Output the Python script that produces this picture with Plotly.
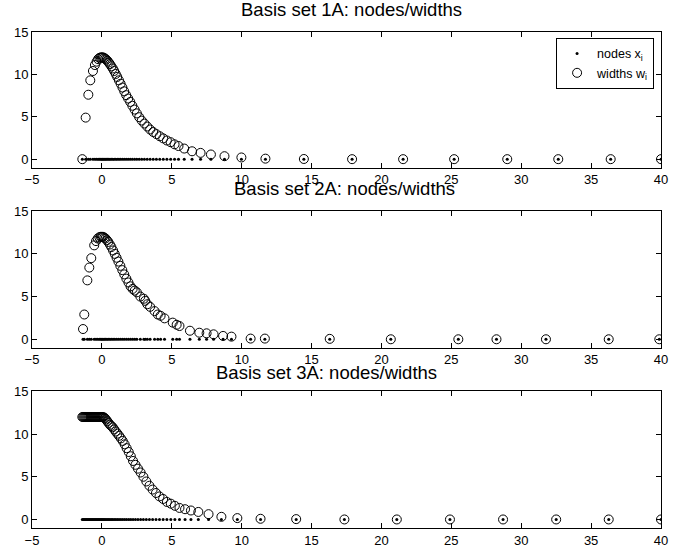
import plotly.graph_objects as go

# ---------------- data ----------------
x_ticks = [-5, 0, 5, 10, 15, 20, 25, 30, 35, 40]
y_ticks = [0, 5, 10, 15]

titles = ["Basis set 1A: nodes/widths", "Basis set 2A: nodes/widths", "Basis set 3A: nodes/widths"]

nodes_1 = [-1.40, -1.16, -0.97, -0.83, -0.64, -0.50, -0.38, -0.27, -0.17, -0.08, 0.00,
           0.07, 0.15, 0.23, 0.31, 0.40, 0.49, 0.58, 0.68, 0.78, 0.88, 0.99, 1.10, 1.22,
           1.34, 1.47, 1.60, 1.74, 1.88, 2.03, 2.18, 2.34, 2.50, 2.67, 2.85, 3.04, 3.24,
           3.45, 3.67, 3.90, 4.14, 4.39, 4.65, 4.92, 5.20, 5.48, 5.89, 6.45, 7.06, 7.80,
           8.77, 9.98, 11.70, 14.45, 17.90, 21.55, 25.20, 29.00, 32.65, 36.40, 40.00]
widths_1 = [0.0, 4.9, 7.6, 9.3, 10.4, 11.1, 11.5, 11.8, 11.95, 12.0, 12.0,
            12.0, 11.95, 11.85, 11.75, 11.6, 11.4, 11.2, 10.95, 10.7, 10.4, 10.05, 9.7, 9.3,
            8.9, 8.45, 8.0, 7.55, 7.15, 6.75, 6.3, 5.85, 5.4, 4.95, 4.55, 4.2, 3.85,
            3.5, 3.2, 2.95, 2.7, 2.45, 2.2, 2.0, 1.75, 1.55, 1.25, 0.93, 0.74, 0.55,
            0.35, 0.2, 0.06, 0.02, 0.0, 0.0, 0.0, 0.0, 0.0, 0.0, 0.0]

nodes_2 = [-1.35, -1.26, -1.04, -0.90, -0.76, -0.55, -0.42, -0.30, -0.18, -0.08, 0.00,
           0.08, 0.17, 0.26, 0.36, 0.46, 0.57, 0.68, 0.80, 0.92, 1.05, 1.18, 1.32, 1.46,
           1.60, 1.75, 1.90, 2.05, 2.20, 2.35, 2.50, 2.75, 3.00, 3.10, 3.25, 3.45, 3.77,
           4.00, 4.20, 4.48, 5.07, 5.35, 5.55, 6.30, 6.97, 7.49, 7.99, 8.67, 9.27, 10.64,
           11.66, 16.30, 20.67, 25.50, 28.23, 31.77, 36.26, 39.88]
widths_2 = [1.2, 2.9, 6.9, 8.4, 9.5, 11.0, 11.5, 11.8, 11.95, 12.0, 12.0,
            12.0, 11.9, 11.8, 11.6, 11.4, 11.1, 10.8, 10.4, 10.0, 9.55, 9.1, 8.6, 8.1,
            7.6, 7.1, 6.65, 6.2, 5.9, 5.7, 5.5, 5.0, 4.75, 4.5, 4.1, 3.8, 3.3,
            2.9, 2.75, 2.45, 1.95, 1.7, 1.55, 1.0, 0.77, 0.7, 0.58, 0.39, 0.31, 0.08,
            0.08, 0.05, 0.0, 0.0, 0.0, 0.0, 0.0, 0.0]

nodes_3 = [-1.40, -1.33, -1.26, -1.19, -1.12, -1.05, -0.98, -0.91, -0.84, -0.77, -0.70,
           -0.63, -0.56, -0.49, -0.42, -0.35, -0.28, -0.21, -0.14, -0.07, 0.00,
           0.07, 0.14, 0.22, 0.30, 0.39, 0.48, 0.57, 0.67, 0.77, 0.88, 0.99, 1.11, 1.23,
           1.36, 1.49, 1.63, 1.77, 1.92, 2.07, 2.23, 2.40, 2.58, 2.77, 2.97, 3.18, 3.40,
           3.63, 3.87, 4.12, 4.38, 4.65, 4.93, 5.22, 5.55, 5.95, 6.37, 6.90, 7.63, 8.55,
           9.69, 11.35, 13.90, 17.35, 21.10, 24.90, 28.70, 32.50, 36.26, 40.00]
widths_3 = [12.0, 12.0, 12.0, 12.0, 12.0, 12.0, 12.0, 12.0, 12.0, 12.0, 12.0,
            12.0, 12.0, 12.0, 12.0, 12.0, 12.0, 12.0, 12.0, 12.0, 12.0,
            12.0, 11.95, 11.85, 11.7, 11.5, 11.3, 11.1, 10.95, 10.8, 10.55, 10.3, 10.05, 9.8,
            9.5, 9.2, 8.8, 8.35, 7.9, 7.4, 6.85, 6.4, 5.95, 5.5, 5.0, 4.45, 3.95,
            3.5, 3.1, 2.7, 2.4, 2.05, 1.85, 1.6, 1.35, 1.2, 1.05, 0.88, 0.62, 0.31,
            0.16, 0.08, 0.04, 0.0, 0.0, 0.0, 0.0, 0.0, 0.0, 0.0]

nodes_all = [nodes_1, nodes_2, nodes_3]
widths_all = [widths_1, widths_2, widths_3]

# ---------------- figure ----------------
W, H = 676, 556
ml, mr, mt, mb = 32, 8, 32, 23
ph = H - mt - mb
pw = W - ml - mr

def frac(py):
    return (H - mb - py) / ph

def xfrac(px):
    return (px - ml) / pw

domains = [(frac(169), 1.0), (frac(351), frac(213)), (0.0, frac(395))]
title_y = [frac(22.3), frac(203), frac(389)]
title_x = [xfrac(355.5), xfrac(348), xfrac(329.5)]

fig = go.Figure()
font = "Liberation Sans, Arial, Helvetica, sans-serif"

for k in range(3):
    xa = "x" if k == 0 else f"x{k+1}"
    ya = "y" if k == 0 else f"y{k+1}"
    fig.add_trace(go.Scatter(
        x=nodes_all[k], y=[0] * len(nodes_all[k]), mode="markers",
        marker=dict(symbol="circle", size=3, color="black"),
        name="nodes x<sub>i</sub>", showlegend=(k == 0), xaxis=xa, yaxis=ya))
    fig.add_trace(go.Scatter(
        x=nodes_all[k], y=widths_all[k], mode="markers",
        marker=dict(symbol="circle-open", size=9, color="black", line=dict(width=1, color="black")),
        name="widths w<sub>i</sub>", showlegend=(k == 0), xaxis=xa, yaxis=ya))

axis_common = dict(showline=True, linecolor="black", linewidth=1, mirror="ticks",
                   ticks="inside", ticklen=5, tickcolor="black", tickwidth=1,
                   showgrid=False, zeroline=False,
                   tickfont=dict(family=font, size=13, color="black"))

layout = dict(width=W, height=H, margin=dict(l=ml, r=mr, t=mt, b=mb),
              paper_bgcolor="white", plot_bgcolor="white",
              font=dict(family=font, color="black"),
              legend=dict(x=0.989, xanchor="right", y=0.988, yanchor="top",
                          bgcolor="white", bordercolor="black", borderwidth=1,
                          font=dict(family=font, size=12.5, color="black"),
                          tracegroupgap=0),
              annotations=[])

for k in range(3):
    xs = "xaxis" if k == 0 else f"xaxis{k+1}"
    ys = "yaxis" if k == 0 else f"yaxis{k+1}"
    ya = "y" if k == 0 else f"y{k+1}"
    xa = "x" if k == 0 else f"x{k+1}"
    layout[xs] = dict(axis_common, domain=[0, 1], range=[-5, 40], tickvals=x_ticks,
                      anchor=ya)
    layout[ys] = dict(axis_common, domain=list(domains[k]), range=[-1, 15], tickvals=y_ticks,
                      anchor=xa)
    layout["annotations"].append(dict(
        text=titles[k], x=title_x[k], y=title_y[k], xref="paper", yref="paper",
        xanchor="center", yanchor="bottom", showarrow=False,
        font=dict(family=font, size=18.5, color="black")))

fig.update_layout(**layout)
fig.write_html("out.html")
